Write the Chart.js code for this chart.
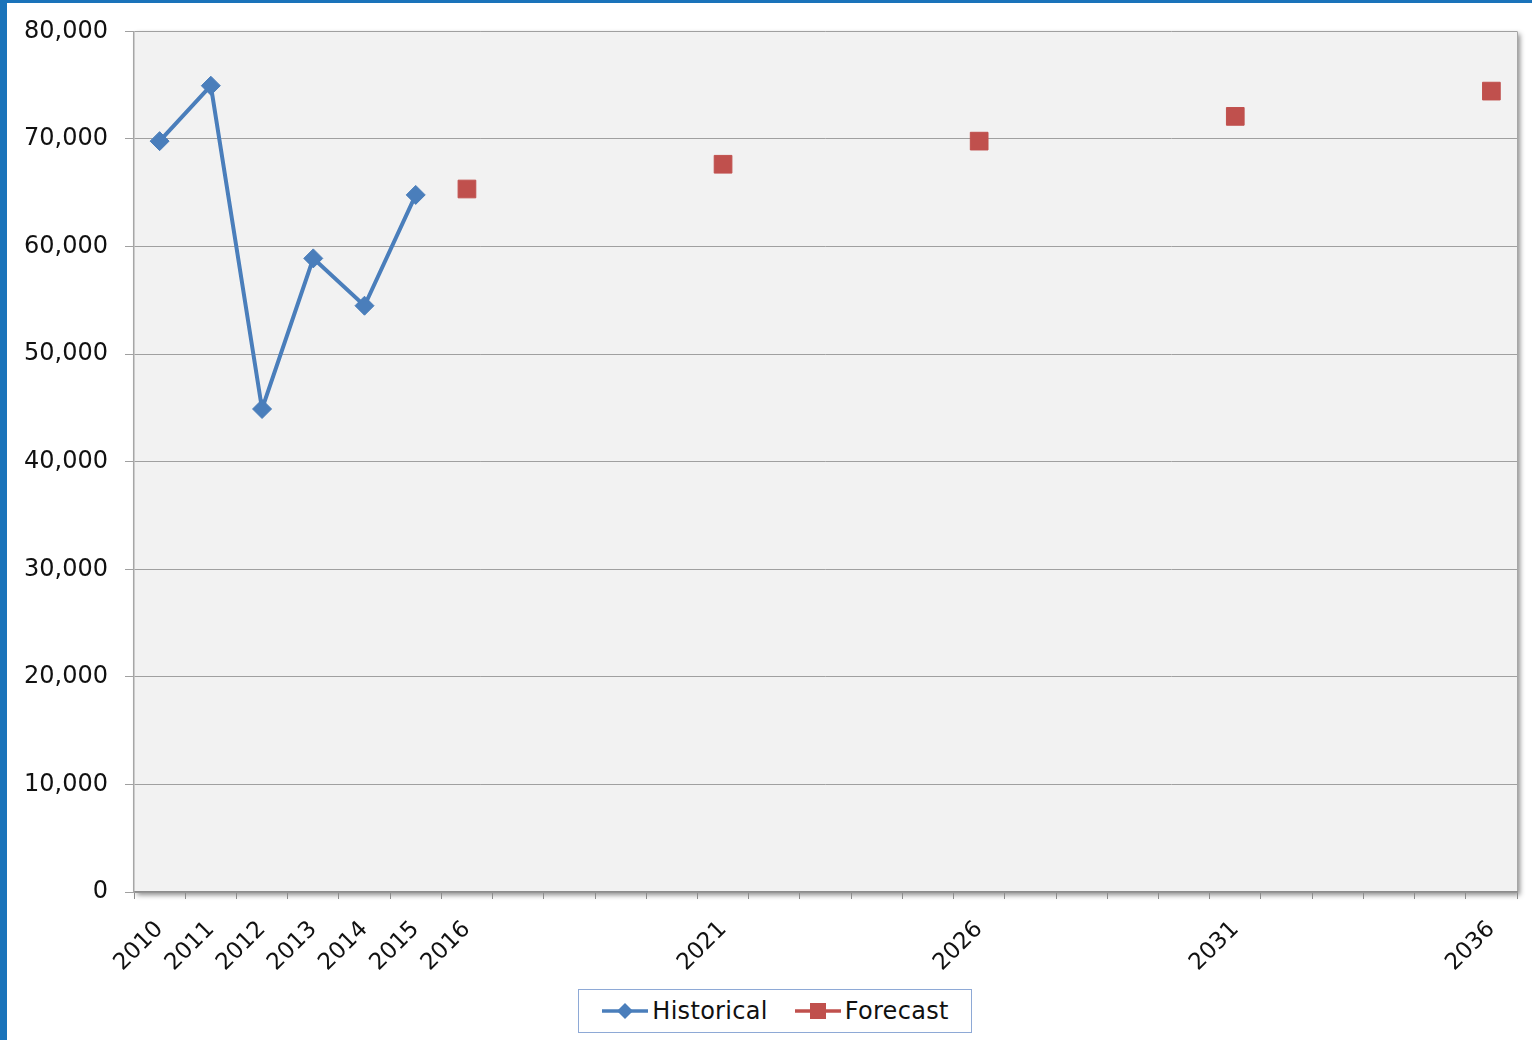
<!DOCTYPE html>
<html>
<head>
<meta charset="utf-8">
<script src="https://cdn.jsdelivr.net/npm/chart.js@4/dist/chart.umd.min.js"></script>
<style>
  html, body { margin: 0; padding: 0; background: #fff; }
  #wrap { position: relative; width: 1532px; height: 1040px; overflow: hidden; }
  #chart { position: absolute; left: 0; top: 0; }
  .edgeLeft { position: absolute; left: 0; top: 0; width: 7px; height: 1040px; background: #1a73ba; }
  .edgeTop { position: absolute; left: 0; top: 0; width: 1532px; height: 3px; background: #1a73ba; }
  #legend {
    position: absolute; left: 578px; top: 989px; width: 392px; height: 42px;
    border: 1px solid #8ea9d6; background: #fff;
    font-family: "DejaVu Sans", sans-serif; font-size: 24px; color: #111;
    display: flex; align-items: center; justify-content: center; gap: 26px;
  }
  #legend span.item { display: flex; align-items: center; letter-spacing: 0.3px; }
  #legend svg { margin-right: 3px; }
</style>
</head>
<body>
<div id="wrap">
  <canvas id="chart" width="1532" height="1040"></canvas>
  <div class="edgeLeft"></div>
  <div class="edgeTop"></div>
  <div id="legend">
    <span class="item">
      <svg width="48" height="20"><line x1="1" y1="10" x2="47" y2="10" stroke="#4a7ebb" stroke-width="3.5"/><polygon points="24,2 32,10 24,18 16,10" fill="#4a7ebb"/></svg>Historical
    </span>
    <span class="item">
      <svg width="48" height="20"><line x1="1" y1="10" x2="47" y2="10" stroke="#c0504d" stroke-width="3.5"/><rect x="16" y="2" width="16" height="16" fill="#c0504d"/></svg>Forecast
    </span>
  </div>
</div>
<script>
// --------------------------
// データ
// --------------------------
const years = ['2010','2011','2012','2013','2014','2015','2016','2017','2018','2019',
               '2020','2021','2022','2023','2024','2025','2026','2027','2028','2029',
               '2030','2031','2032','2033','2034','2035','2036'];
const shownYears = ['2010','2011','2012','2013','2014','2015','2016','2021','2026','2031','2036'];

const historical = [69800, 74950, 44900, 58900, 54500, 64800, null, null, null, null,
                    null, null, null, null, null, null, null, null, null, null,
                    null, null, null, null, null, null, null];
const forecast = [null, null, null, null, null, null, 65350, null, null, null,
                  null, 67650, null, null, null, null, 69800, null, null, null,
                  null, 72100, null, null, null, null, 74450];

const yTicks = [0, 10000, 20000, 30000, 40000, 50000, 60000, 70000, 80000];

// plot area background with drop shadow
const plotBg = {
  id: 'plotBg',
  beforeDraw(chart) {
    const {ctx, chartArea: a} = chart;
    ctx.save();
    ctx.shadowColor = 'rgba(0,0,0,0.45)';
    ctx.shadowBlur = 5;
    ctx.shadowOffsetX = 3;
    ctx.shadowOffsetY = 3;
    ctx.fillStyle = '#f2f2f2';
    ctx.fillRect(a.left, a.top, a.right - a.left, a.bottom - a.top);
    ctx.restore();
    ctx.save();
    ctx.strokeStyle = '#a6a6a6';
    ctx.lineWidth = 1;
    ctx.beginPath();
    ctx.moveTo(a.right + 0.5, a.top);
    ctx.lineTo(a.right + 0.5, a.bottom);
    ctx.stroke();
    ctx.restore();
  }
};

const ctx = document.getElementById('chart').getContext('2d');
new Chart(ctx, {
  type: 'line',
  data: {
    labels: years,
    datasets: [
      {
        label: 'Historical',
        data: historical,
        borderColor: '#4a7ebb',
        backgroundColor: '#4a7ebb',
        borderWidth: 4,
        pointStyle: 'rectRot',
        pointRadius: 9.5,
        pointBorderWidth: 1,
        tension: 0,
        spanGaps: false
      },
      {
        label: 'Forecast',
        data: forecast,
        borderColor: '#c0504d',
        backgroundColor: '#c0504d',
        showLine: false,
        pointStyle: 'rect',
        pointRadius: 12.5,
        pointBorderWidth: 1
      }
    ]
  },
  options: {
    responsive: false,
    animation: false,
    layout: { padding: { top: 30, right: 15, left: 0, bottom: 0 } },
    plugins: {
      legend: { display: false },
      tooltip: { enabled: false }
    },
    scales: {
      x: {
        type: 'category',
        offset: true,
        afterFit: s => { s.height = 148; },
        grid: { offset: true, drawOnChartArea: false, drawTicks: true, tickLength: 7, color: '#8c8c8c' },
        border: { color: '#8c8c8c', width: 1.5 },
        ticks: {
          autoSkip: false,
          maxRotation: 45,
          minRotation: 45,
          padding: 17,
          color: '#111',
          font: { family: 'DejaVu Sans', size: 23 },
          callback: function(v) {
            const y = this.getLabelForValue(v);
            return shownYears.includes(y) ? y : '';
          }
        }
      },
      y: {
        min: 0,
        max: 80000,
        afterFit: s => { s.width = 134; },
        afterBuildTicks: s => { s.ticks = yTicks.map(v => ({ value: v })); },
        grid: { color: '#a0a0a0', lineWidth: 1, tickLength: 9, drawTicks: true },
        border: { color: '#a6a6a6', width: 1.5 },
        ticks: {
          padding: 17,
          color: '#111',
          font: { family: 'DejaVu Sans', size: 24 },
          callback: v => v.toLocaleString('en-US')
        }
      }
    }
  },
  plugins: [plotBg]
});
</script>
</body>
</html>
